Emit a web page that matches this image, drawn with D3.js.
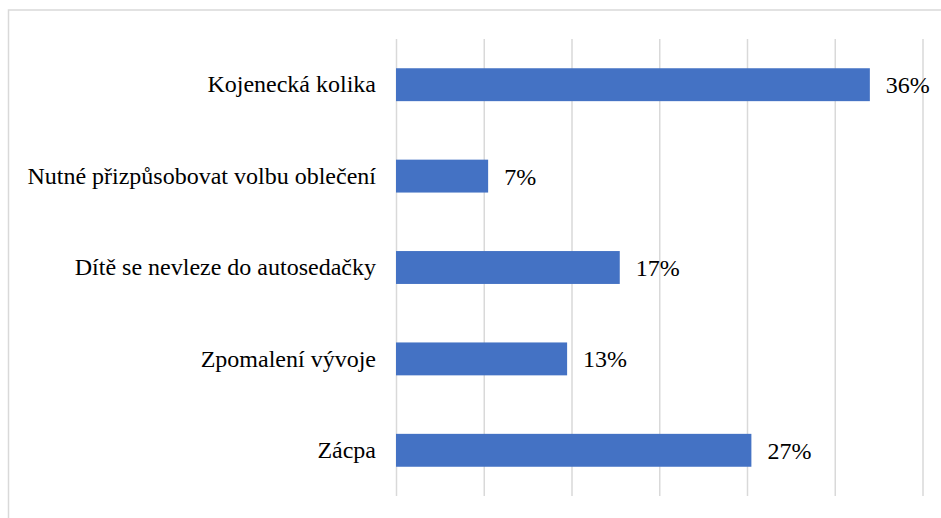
<!DOCTYPE html>
<html>
<head>
<meta charset="utf-8">
<script src="https://cdn.jsdelivr.net/npm/d3@7"></script>
<style>
  html, body { margin: 0; padding: 0; background: #fff; }
  svg { display: block; }
</style>
</head>
<body>
<svg id="chart" width="941" height="518"></svg>
<script>
// Reasons reported, with share of respondents (%)
const categories = [
  "Kojenecká kolika",
  "Nutné přizpůsobovat volbu oblečení",
  "Dítě se nevleze do autosedačky",
  "Zpomalení vývoje",
  "Zácpa"
];
const values = [36, 7, 17, 13, 27];
// Gridline positions on the percentage axis (six equal steps up to 40 %)
const gridValues = [0, 40 / 6, 80 / 6, 20, 160 / 6, 200 / 6, 40];

const svg = d3.select("#chart");
const margin = { left: 396, right: 18.5, top: 39, bottom: 22 };
const W = 941, H = 518;
const fontFamily = '"Liberation Serif", "Times New Roman", Tinos, serif';
const fontSize = "24px";

// Outer chart frame
svg.append("rect")
  .attr("x", 8.5).attr("y", 10)
  .attr("width", W + 10).attr("height", H + 10)
  .attr("fill", "none")
  .attr("stroke", "#d9d9d9")
  .attr("stroke-width", 1.5);

const x = d3.scaleLinear()
  .domain([0, 40])
  .range([margin.left, W - margin.right]);

const y = d3.scaleBand()
  .domain(categories)
  .range([margin.top, H - margin.bottom])
  .paddingInner(0.64)
  .paddingOuter(0.32);

// Vertical gridlines
const grid = d3.axisBottom(x)
  .tickValues(gridValues)
  .tickSize(-(H - margin.bottom - margin.top))
  .tickFormat("");
svg.append("g")
  .attr("transform", `translate(0,${H - margin.bottom})`)
  .call(grid)
  .call(g => g.select(".domain").remove())
  .call(g => g.selectAll(".tick line")
    .attr("stroke", "#d9d9d9")
    .attr("stroke-width", 1.5));

// Bars
svg.append("g")
  .selectAll("rect")
  .data(values)
  .join("rect")
  .attr("x", x(0))
  .attr("y", (d, i) => y(categories[i]))
  .attr("width", d => x(d) - x(0))
  .attr("height", y.bandwidth())
  .attr("fill", "#4472C4");

// Category axis labels
const yAxis = d3.axisLeft(y).tickSize(0).tickPadding(20);
svg.append("g")
  .attr("transform", `translate(${x(0)},0)`)
  .call(yAxis)
  .call(g => g.select(".domain").remove())
  .call(g => g.selectAll("text")
    .style("font-family", fontFamily)
    .style("font-size", fontSize)
    .attr("fill", "#000"));

// Value labels
svg.append("g")
  .selectAll("text")
  .data(values)
  .join("text")
  .attr("x", d => x(d) + 16)
  .attr("y", (d, i) => y(categories[i]) + y.bandwidth() / 2)
  .attr("dy", "0.35em")
  .style("font-family", fontFamily)
  .style("font-size", fontSize)
  .attr("fill", "#000")
  .text(d => d + "%");
</script>
</body>
</html>
